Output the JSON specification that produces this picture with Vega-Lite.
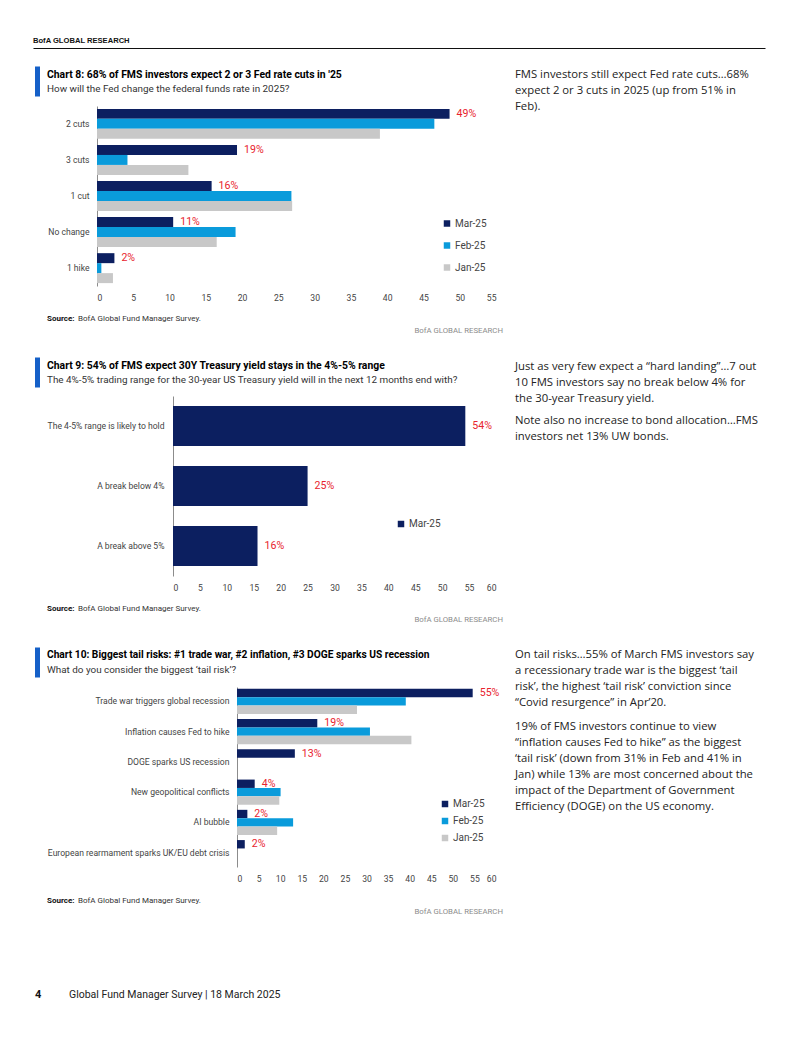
{
  "$schema": "https://vega.github.io/schema/vega-lite/v6.json",
  "background": "white",
  "padding": 0,
  "spacing": 0,
  "bounds": "flush",
  "resolve": {"scale": {"color": "independent", "yOffset": "independent"}, "legend": {"color": "independent"}},
  "vconcat": [
    {"width": 802, "height": 33, "data": {"values": [{}]}, "mark": {"type": "text", "text": ""}},
    {"width": 802, "height": 15, "data": {"values": [{"v": 0, "t": "BofA GLOBAL RESEARCH"}]},
     "mark": {"type": "text", "align": "left", "baseline": "middle", "font": "Liberation Sans", "fontSize": 7.6, "fontWeight": "bold", "color": "#111"},
     "encoding": {
       "x": {"field": "v", "type": "quantitative", "scale": {"domain": [0, 1], "range": [33, 765]}, "axis": {"orient": "bottom", "domain": true, "domainColor": "#111", "domainWidth": 1.2, "ticks": false, "labels": false, "grid": false, "title": null}},
       "y": {"value": 8},
       "text": {"field": "t"}
     }},
    {"width": 802, "height": 18, "data": {"values": [{}]}, "mark": {"type": "text", "text": ""}},
    {"width": 802, "height": 30,
     "layer": [
       {"data": {"values": [{"line": "a", "t": "Chart 8: 68% of FMS investors expect 2 or 3 Fed rate cuts in '25"}, {"line": "b", "t": "How will the Fed change the federal funds rate in 2025?"}]},
        "encoding": {
          "y": {"field": "line", "type": "nominal", "scale": {"domain": ["a", "b"], "paddingInner": 0, "paddingOuter": 0}, "axis": {"title": null, "labels": false, "ticks": false, "grid": false, "domain": true, "offset": -37, "domainColor": "#1560C8", "domainWidth": 5, "domainCap": "butt"}},
          "x": {"value": 47},
          "text": {"field": "t"}
        },
        "layer": [
          {"transform": [{"filter": "datum.line === 'a'"}], "mark": {"type": "text", "align": "left", "baseline": "middle", "dy": 1, "font": "Roboto", "fontWeight": "bold", "fontSize": 10.4, "color": "#000"}},
          {"transform": [{"filter": "datum.line === 'b'"}], "mark": {"type": "text", "align": "left", "baseline": "middle", "dy": 0.5, "font": "Roboto", "fontSize": 9.9, "color": "#333"}}
        ]},
       {"data": {"values": [{}]}, "mark": {"type": "text", "text": ["FMS investors still expect Fed rate cuts…68%", "expect 2 or 3 cuts in 2025 (up from 51% in", "Feb)."], "align": "left", "baseline": "top", "lineHeight": 16, "font": "Open Sans", "fontSize": 11.3, "color": "#222"}, "encoding": {"x": {"value": 515}, "y": {"value": 2.5}}}
     ]},
    {"width": 802, "height": 10, "data": {"values": [{}]}, "mark": {"type": "text", "text": ""}},
    {"width": 802, "height": 180,
     "data": {"values": [
       {"cat": "2 cuts", "series": "Mar-25", "v": 48.6, "label": "49%"},
       {"cat": "2 cuts", "series": "Feb-25", "v": 46.5, "label": ""},
       {"cat": "2 cuts", "series": "Jan-25", "v": 39.0, "label": ""},
       {"cat": "3 cuts", "series": "Mar-25", "v": 19.3, "label": "19%"},
       {"cat": "3 cuts", "series": "Feb-25", "v": 4.2, "label": ""},
       {"cat": "3 cuts", "series": "Jan-25", "v": 12.6, "label": ""},
       {"cat": "1 cut", "series": "Mar-25", "v": 15.8, "label": "16%"},
       {"cat": "1 cut", "series": "Feb-25", "v": 26.8, "label": ""},
       {"cat": "1 cut", "series": "Jan-25", "v": 26.9, "label": ""},
       {"cat": "No change", "series": "Mar-25", "v": 10.5, "label": "11%"},
       {"cat": "No change", "series": "Feb-25", "v": 19.1, "label": ""},
       {"cat": "No change", "series": "Jan-25", "v": 16.5, "label": ""},
       {"cat": "1 hike", "series": "Mar-25", "v": 2.4, "label": "2%"},
       {"cat": "1 hike", "series": "Feb-25", "v": 0.6, "label": ""},
       {"cat": "1 hike", "series": "Jan-25", "v": 2.2, "label": ""}
     ]},
     "encoding": {
       "y": {"field": "cat", "type": "nominal", "sort": ["2 cuts", "3 cuts", "1 cut", "No change", "1 hike"], "scale": {"paddingInner": 0.17, "paddingOuter": 0.08}, "axis": {"title": null, "offset": -97, "domain": true, "domainColor": "#8c8c8c", "ticks": false, "tickSize": 0, "labelPadding": 8}},
       "yOffset": {"field": "series", "type": "nominal", "sort": ["Mar-25", "Feb-25", "Jan-25"], "scale": {"domain": ["Mar-25", "Feb-25", "Jan-25"], "paddingInner": 0, "paddingOuter": 0}},
       "x": {"field": "v", "type": "quantitative", "scale": {"domain": [0, 55], "range": [97, 496], "nice": false}, "axis": {"title": null, "values": [0, 5, 10, 15, 20, 25, 30, 35, 40, 45, 50, 55], "domain": false, "ticks": false, "tickSize": 0, "grid": false, "labelPadding": 7}}
     },
     "layer": [
       {"mark": {"type": "bar"}, "encoding": {"color": {"field": "series", "type": "nominal", "sort": ["Mar-25", "Feb-25", "Jan-25"], "scale": {"domain": ["Mar-25", "Feb-25", "Jan-25"], "range": ["#0C1F60", "#0A9BDB", "#C8C8C8"]}, "legend": {"orient": "none", "legendX": 442, "legendY": 112.5, "direction": "vertical", "title": null, "rowPadding": 12}}}},
       {"transform": [{"filter": "datum.series === 'Mar-25'"}], "mark": {"type": "text", "align": "left", "baseline": "middle", "dx": 7, "color": "#E8232E", "font": "Roboto", "fontSize": 10.6}, "encoding": {"text": {"field": "label"}}}
     ]},
    {"width": 802, "height": 27, "data": {"values": [{}]}, "mark": {"type": "text", "text": ""}},
    {"width": 802, "height": 24, "data": {"values": [{}]}, "layer": [
      {"mark": {"type": "text", "text": "Source:", "align": "left", "baseline": "middle", "font": "Roboto", "fontWeight": "bold", "fontSize": 8, "color": "#111"}, "encoding": {"x": {"value": 47}, "y": {"value": 6}}},
      {"mark": {"type": "text", "text": "BofA Global Fund Manager Survey.", "align": "left", "baseline": "middle", "font": "Roboto", "fontSize": 8, "color": "#333"}, "encoding": {"x": {"value": 78}, "y": {"value": 6}}},
      {"mark": {"type": "text", "text": "BofA GLOBAL RESEARCH", "align": "right", "baseline": "middle", "font": "Roboto", "fontSize": 7.8, "color": "#8c8c8c"}, "encoding": {"x": {"value": 503}, "y": {"value": 17.5}}}
    ]},
    {"width": 802, "height": 20, "data": {"values": [{}]}, "mark": {"type": "text", "text": ""}},
    {"width": 802, "height": 30,
     "layer": [
       {"data": {"values": [{"line": "a", "t": "Chart 9: 54% of FMS expect 30Y Treasury yield stays in the 4%-5% range"}, {"line": "b", "t": "The 4%-5% trading range for the 30-year US Treasury yield will in the next 12 months end with?"}]},
        "encoding": {
          "y": {"field": "line", "type": "nominal", "scale": {"domain": ["a", "b"], "paddingInner": 0, "paddingOuter": 0}, "axis": {"title": null, "labels": false, "ticks": false, "grid": false, "domain": true, "offset": -37, "domainColor": "#1560C8", "domainWidth": 5, "domainCap": "butt"}},
          "x": {"value": 47},
          "text": {"field": "t"}
        },
        "layer": [
          {"transform": [{"filter": "datum.line === 'a'"}], "mark": {"type": "text", "align": "left", "baseline": "middle", "dy": 1, "font": "Roboto", "fontWeight": "bold", "fontSize": 10.4, "color": "#000"}},
          {"transform": [{"filter": "datum.line === 'b'"}], "mark": {"type": "text", "align": "left", "baseline": "middle", "dy": 0.5, "font": "Roboto", "fontSize": 9.9, "color": "#333"}}
        ]},
       {"data": {"values": [{}]}, "mark": {"type": "text", "text": ["Just as very few expect a “hard landing”…7 out", "10 FMS investors say no break below 4% for", "the 30-year Treasury yield."], "align": "left", "baseline": "top", "lineHeight": 16, "font": "Open Sans", "fontSize": 11.3, "color": "#222"}, "encoding": {"x": {"value": 515}, "y": {"value": 4}}},
       {"data": {"values": [{}]}, "mark": {"type": "text", "text": ["Note also no increase to bond allocation…FMS", "investors net 13% UW bonds."], "align": "left", "baseline": "top", "lineHeight": 16, "font": "Open Sans", "fontSize": 11.3, "color": "#222"}, "encoding": {"x": {"value": 515}, "y": {"value": 58}}}
     ]},
    {"width": 802, "height": 9, "data": {"values": [{}]}, "mark": {"type": "text", "text": ""}},
    {"width": 802, "height": 180,
     "data": {"values": [
       {"cat": "The 4-5% range is likely to hold", "series": "Mar-25", "v": 54.3, "label": "54%"},
       {"cat": "A break below 4%", "series": "Mar-25", "v": 25.0, "label": "25%"},
       {"cat": "A break above 5%", "series": "Mar-25", "v": 15.7, "label": "16%"}
     ]},
     "encoding": {
       "y": {"field": "cat", "type": "nominal", "sort": ["The 4-5% range is likely to hold", "A break below 4%", "A break above 5%"], "scale": {"paddingInner": 0.333, "paddingOuter": 0.167}, "axis": {"title": null, "offset": -173, "domain": true, "domainColor": "#8c8c8c", "ticks": false, "tickSize": 0, "labelPadding": 9}},
       "x": {"field": "v", "type": "quantitative", "scale": {"domain": [0, 60], "range": [173, 496], "nice": false}, "axis": {"title": null, "values": [0, 5, 10, 15, 20, 25, 30, 35, 40, 45, 50, 55, 60], "domain": false, "ticks": false, "tickSize": 0, "grid": false, "labelPadding": 7}}
     },
     "layer": [
       {"mark": {"type": "bar"}, "encoding": {"color": {"field": "series", "type": "nominal", "scale": {"domain": ["Mar-25"], "range": ["#0C1F60"]}, "legend": {"orient": "none", "legendX": 396, "legendY": 123, "direction": "vertical", "title": null}}}},
       {"mark": {"type": "text", "align": "left", "baseline": "middle", "dx": 7, "color": "#E8232E", "font": "Roboto", "fontSize": 10.6}, "encoding": {"text": {"field": "label"}}}
     ]},
    {"width": 802, "height": 26, "data": {"values": [{}]}, "mark": {"type": "text", "text": ""}},
    {"width": 802, "height": 24, "data": {"values": [{}]}, "layer": [
      {"mark": {"type": "text", "text": "Source:", "align": "left", "baseline": "middle", "font": "Roboto", "fontWeight": "bold", "fontSize": 8, "color": "#111"}, "encoding": {"x": {"value": 47}, "y": {"value": 6.5}}},
      {"mark": {"type": "text", "text": "BofA Global Fund Manager Survey.", "align": "left", "baseline": "middle", "font": "Roboto", "fontSize": 8, "color": "#333"}, "encoding": {"x": {"value": 78}, "y": {"value": 6.5}}},
      {"mark": {"type": "text", "text": "BofA GLOBAL RESEARCH", "align": "right", "baseline": "middle", "font": "Roboto", "fontSize": 7.8, "color": "#8c8c8c"}, "encoding": {"x": {"value": 503}, "y": {"value": 17.5}}}
    ]},
    {"width": 802, "height": 21, "data": {"values": [{}]}, "mark": {"type": "text", "text": ""}},
    {"width": 802, "height": 30,
     "layer": [
       {"data": {"values": [{"line": "a", "t": "Chart 10: Biggest tail risks: #1 trade war, #2 inflation, #3 DOGE sparks US recession"}, {"line": "b", "t": "What do you consider the biggest ‘tail risk’?"}]},
        "encoding": {
          "y": {"field": "line", "type": "nominal", "scale": {"domain": ["a", "b"], "paddingInner": 0, "paddingOuter": 0}, "axis": {"title": null, "labels": false, "ticks": false, "grid": false, "domain": true, "offset": -37, "domainColor": "#1560C8", "domainWidth": 5, "domainCap": "butt"}},
          "x": {"value": 47},
          "text": {"field": "t"}
        },
        "layer": [
          {"transform": [{"filter": "datum.line === 'a'"}], "mark": {"type": "text", "align": "left", "baseline": "middle", "dy": 0.5, "font": "Roboto", "fontWeight": "bold", "fontSize": 10.2, "color": "#000"}},
          {"transform": [{"filter": "datum.line === 'b'"}], "mark": {"type": "text", "align": "left", "baseline": "middle", "dy": 0, "font": "Roboto", "fontSize": 9.9, "color": "#333"}}
        ]},
       {"data": {"values": [{}]}, "mark": {"type": "text", "text": ["On tail risks…55% of March FMS investors say", "a recessionary trade war is the biggest ‘tail", "risk’, the highest ‘tail risk’ conviction since", "“Covid resurgence” in Apr’20."], "align": "left", "baseline": "top", "lineHeight": 16, "font": "Open Sans", "fontSize": 11.3, "color": "#222"}, "encoding": {"x": {"value": 515}, "y": {"value": 2}}},
       {"data": {"values": [{}]}, "mark": {"type": "text", "text": ["19% of FMS investors continue to view", "“inflation causes Fed to hike” as the biggest", "‘tail risk’ (down from 31% in Feb and 41% in", "Jan) while 13% are most concerned about the", "impact of the Department of Government", "Efficiency (DOGE) on the US economy."], "align": "left", "baseline": "top", "lineHeight": 16, "font": "Open Sans", "fontSize": 11.3, "color": "#222"}, "encoding": {"x": {"value": 515}, "y": {"value": 74}}}
     ]},
    {"width": 802, "height": 10, "data": {"values": [{}]}, "mark": {"type": "text", "text": ""}},
    {"width": 802, "height": 180,
     "data": {"values": [
       {"cat": "Trade war triggers global recession", "series": "Mar-25", "v": 54.6, "label": "55%"},
       {"cat": "Trade war triggers global recession", "series": "Feb-25", "v": 39.1, "label": ""},
       {"cat": "Trade war triggers global recession", "series": "Jan-25", "v": 27.8, "label": ""},
       {"cat": "Inflation causes Fed to hike", "series": "Mar-25", "v": 18.6, "label": "19%"},
       {"cat": "Inflation causes Fed to hike", "series": "Feb-25", "v": 30.8, "label": ""},
       {"cat": "Inflation causes Fed to hike", "series": "Jan-25", "v": 40.4, "label": ""},
       {"cat": "DOGE sparks US recession", "series": "Mar-25", "v": 13.4, "label": "13%"},
       {"cat": "New geopolitical conflicts", "series": "Mar-25", "v": 4.1, "label": "4%"},
       {"cat": "New geopolitical conflicts", "series": "Feb-25", "v": 10.1, "label": ""},
       {"cat": "New geopolitical conflicts", "series": "Jan-25", "v": 9.8, "label": ""},
       {"cat": "AI bubble", "series": "Mar-25", "v": 2.4, "label": "2%"},
       {"cat": "AI bubble", "series": "Feb-25", "v": 13.0, "label": ""},
       {"cat": "AI bubble", "series": "Jan-25", "v": 9.3, "label": ""},
       {"cat": "European rearmament sparks UK/EU debt crisis", "series": "Mar-25", "v": 1.8, "label": "2%"}
     ]},
     "encoding": {
       "y": {"field": "cat", "type": "nominal", "sort": ["Trade war triggers global recession", "Inflation causes Fed to hike", "DOGE sparks US recession", "New geopolitical conflicts", "AI bubble", "European rearmament sparks UK/EU debt crisis"], "scale": {"paddingInner": 0.17, "paddingOuter": 0.06}, "axis": {"title": null, "offset": -237, "domain": true, "domainColor": "#8c8c8c", "ticks": false, "tickSize": 0, "labelPadding": 8}},
       "yOffset": {"field": "series", "type": "nominal", "sort": ["Mar-25", "Feb-25", "Jan-25"], "scale": {"domain": ["Mar-25", "Feb-25", "Jan-25"], "paddingInner": 0, "paddingOuter": 0}},
       "x": {"field": "v", "type": "quantitative", "scale": {"domain": [0, 60], "range": [237, 496], "nice": false}, "axis": {"title": null, "values": [0, 5, 10, 15, 20, 25, 30, 35, 40, 45, 50, 55, 60], "domain": false, "ticks": false, "tickSize": 0, "grid": false, "labelPadding": 7.5}}
     },
     "layer": [
       {"mark": {"type": "bar"}, "encoding": {"color": {"field": "series", "type": "nominal", "sort": ["Mar-25", "Feb-25", "Jan-25"], "scale": {"domain": ["Mar-25", "Feb-25", "Jan-25"], "range": ["#0C1F60", "#0A9BDB", "#C8C8C8"]}, "legend": {"orient": "none", "legendX": 440, "legendY": 112, "direction": "vertical", "title": null, "rowPadding": 7}}}},
       {"transform": [{"filter": "datum.series === 'Mar-25'"}], "mark": {"type": "text", "align": "left", "baseline": "middle", "dx": 7, "color": "#E8232E", "font": "Roboto", "fontSize": 10.6}, "encoding": {"text": {"field": "label"}}}
     ]},
    {"width": 802, "height": 27, "data": {"values": [{}]}, "mark": {"type": "text", "text": ""}},
    {"width": 802, "height": 24, "data": {"values": [{}]}, "layer": [
      {"mark": {"type": "text", "text": "Source:", "align": "left", "baseline": "middle", "font": "Roboto", "fontWeight": "bold", "fontSize": 8, "color": "#111"}, "encoding": {"x": {"value": 47}, "y": {"value": 6.5}}},
      {"mark": {"type": "text", "text": "BofA Global Fund Manager Survey.", "align": "left", "baseline": "middle", "font": "Roboto", "fontSize": 8, "color": "#333"}, "encoding": {"x": {"value": 78}, "y": {"value": 6.5}}},
      {"mark": {"type": "text", "text": "BofA GLOBAL RESEARCH", "align": "right", "baseline": "middle", "font": "Roboto", "fontSize": 7.8, "color": "#8c8c8c"}, "encoding": {"x": {"value": 503}, "y": {"value": 17.5}}}
    ]},
    {"width": 802, "height": 67, "data": {"values": [{}]}, "mark": {"type": "text", "text": ""}},
    {"width": 802, "height": 20, "data": {"values": [{}]}, "layer": [
      {"mark": {"type": "text", "text": "4", "align": "left", "baseline": "middle", "font": "Roboto", "fontWeight": "bold", "fontSize": 11, "color": "#111"}, "encoding": {"x": {"value": 35}, "y": {"value": 9.5}}},
      {"mark": {"type": "text", "text": "Global Fund Manager Survey | 18 March 2025", "align": "left", "baseline": "middle", "font": "Roboto", "fontSize": 10.5, "color": "#222"}, "encoding": {"x": {"value": 69}, "y": {"value": 9.5}}}
    ]},
    {"width": 802, "height": 32, "data": {"values": [{}]}, "mark": {"type": "text", "text": ""}}
  ],
  "config": {
    "view": {"stroke": null},
    "concat": {"spacing": 0},
    "font": "Roboto",
    "axis": {"labelFont": "Roboto", "labelFontSize": 8.6, "labelColor": "#444", "labelLimit": 400, "ticks": false, "grid": false},
    "legend": {"labelFont": "Roboto", "labelFontSize": 10, "labelColor": "#444", "symbolType": "square", "symbolSize": 42, "symbolStrokeWidth": 0, "labelOffset": 3, "padding": 0},
    "bar": {"stroke": null}
  }
}
